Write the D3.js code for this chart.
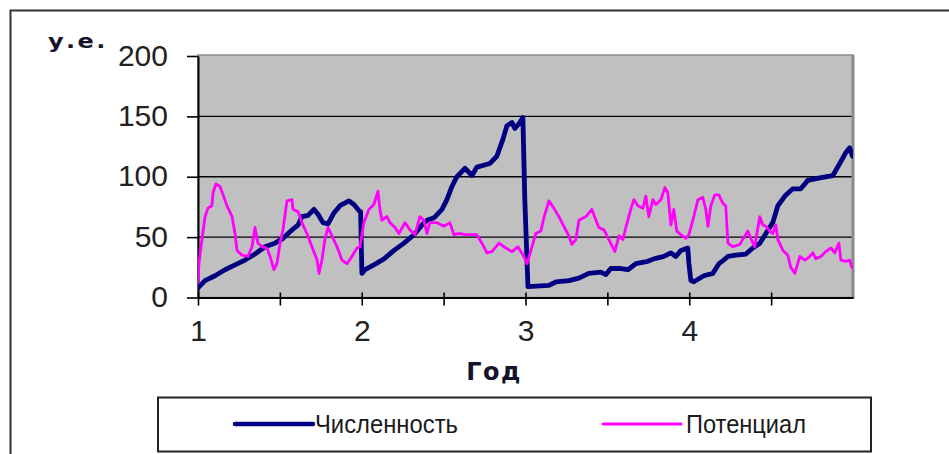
<!DOCTYPE html>
<html>
<head>
<meta charset="utf-8">
<script src="https://cdn.jsdelivr.net/npm/d3@7"></script>
<style>
  html, body { margin: 0; padding: 0; background: #fff; }
  svg { display: block; }
</style>
</head>
<body>
<svg id="chart" width="949" height="454"></svg>
<script>
// Численность: time (years) and values
const popTime = [1.000,1.043,1.104,1.165,1.226,1.287,1.348,1.409,1.470,1.519,1.574,1.611,1.635,1.672,1.708,1.733,1.763,1.794,1.830,1.867,1.922,1.952,1.989,1.993,2.001,2.020,2.074,2.136,2.197,2.258,2.319,2.368,2.398,2.441,2.490,2.520,2.551,2.581,2.630,2.673,2.703,2.783,2.825,2.862,2.886,2.917,2.935,2.966,2.984,2.996,3.015,3.143,3.186,3.265,3.326,3.387,3.460,3.491,3.521,3.582,3.625,3.674,3.747,3.784,3.845,3.888,3.918,3.949,3.991,3.998,4.010,4.028,4.089,4.144,4.181,4.211,4.236,4.285,4.346,4.388,4.431,4.468,4.510,4.541,4.584,4.632,4.681,4.724,4.797,4.877,4.919,4.956,4.980,4.997];
const popValues = [8,14,18,23,27,31,36,42,45,49,56,60,67,68,73,69,62,61,70,76,80,77,71,71,20,23,27,32,39,45,52,60,64,66,73,81,92,100,107,101,108,111,117,131,142,145,140,145,149,80,9,10,13,14,16,20,21,19,24,24,23,28,30,32,34,37,34,39,41,28,14,13,18,20,28,31,34,35,36,41,45,53,62,76,84,90,90,97,99,101,111,120,124,117];

// Потенциал: time (years) and values
const potTime = [1.000,1.006,1.024,1.043,1.061,1.085,1.092,1.110,1.134,1.153,1.177,1.208,1.226,1.238,1.269,1.305,1.330,1.348,1.366,1.391,1.421,1.440,1.464,1.482,1.501,1.519,1.543,1.574,1.580,1.611,1.635,1.665,1.696,1.727,1.739,1.757,1.775,1.794,1.818,1.849,1.879,1.910,1.940,1.971,1.989,2.013,2.044,2.074,2.099,2.111,2.123,2.154,2.172,2.203,2.227,2.264,2.294,2.325,2.355,2.380,2.398,2.416,2.459,2.502,2.538,2.563,2.593,2.636,2.703,2.734,2.764,2.795,2.838,2.880,2.917,2.954,2.990,3.009,3.033,3.063,3.094,3.112,3.143,3.173,3.204,3.234,3.265,3.283,3.308,3.326,3.369,3.405,3.430,3.448,3.479,3.509,3.546,3.570,3.595,3.613,3.643,3.662,3.686,3.717,3.735,3.753,3.778,3.796,3.827,3.851,3.869,3.888,3.906,3.924,3.949,3.979,3.998,4.022,4.053,4.083,4.101,4.114,4.132,4.156,4.181,4.205,4.223,4.236,4.266,4.309,4.339,4.358,4.376,4.400,4.413,4.431,4.449,4.468,4.492,4.510,4.529,4.541,4.572,4.602,4.620,4.645,4.675,4.706,4.736,4.755,4.773,4.804,4.834,4.865,4.889,4.914,4.926,4.956,4.980,4.993];
const potValues = [12,28,48,67,74,76,87,94,92,85,76,67,53,39,35,34,42,58,45,42,41,34,23,28,45,56,80,81,73,71,62,53,42,31,20,31,48,58,51,42,31,28,34,41,42,62,73,77,88,73,64,67,62,58,53,62,56,52,67,64,53,62,62,59,62,52,53,52,52,45,37,38,45,41,38,42,34,28,39,53,55,66,80,74,67,59,51,44,48,64,67,73,64,58,56,48,38,51,48,58,73,81,76,74,84,67,81,77,81,91,87,60,73,55,52,49,52,64,81,83,73,59,76,85,85,78,76,45,42,44,51,55,49,42,53,67,60,59,55,53,60,48,39,35,25,20,34,31,34,37,32,34,38,41,37,45,31,30,31,25];

const seriesNames = ["Численность", "Потенциал"];
const seriesColors = ["#000080", "#ff00ff"];
const yTicks = [0, 50, 100, 150, 200];
const xTickValues = [1, 1.5, 2, 2.5, 3, 3.5, 4, 4.5];
const xTickLabels = ["1", "2", "3", "4"];
const yAxisTitle = "у.е.";
const xAxisTitle = "Год";

const svg = d3.select("#chart");

// outer chart frame (runs off the right and bottom edges)
svg.append("rect")
  .attr("x", 10.5).attr("y", 10.5)
  .attr("width", 1000).attr("height", 1000)
  .attr("fill", "#fff")
  .attr("stroke", "#333").attr("stroke-width", 2);

const plot = { left: 198, top: 56, right: 853, bottom: 297.5 };
const x = d3.scaleLinear().domain([1, 5]).range([plot.left, plot.right]);
const y = d3.scaleLinear().domain([0, 200]).range([plot.bottom, plot.top]);

// plot area background
svg.append("rect")
  .attr("x", plot.left).attr("y", plot.top - 1)
  .attr("width", plot.right - plot.left).attr("height", plot.bottom - plot.top + 1)
  .attr("fill", "#c0c0c0")
  .attr("stroke", "#8c8c8c").attr("stroke-width", 1.5);
svg.append("line")
  .attr("x1", plot.right).attr("x2", plot.right)
  .attr("y1", plot.top - 1).attr("y2", plot.bottom + 1)
  .attr("stroke", "#8a8a8a").attr("stroke-width", 3);

// horizontal gridlines
svg.append("g")
  .selectAll("line")
  .data(yTicks.filter(d => d > 0 && d < 200))
  .join("line")
  .attr("x1", plot.left).attr("x2", plot.right - 1.5)
  .attr("y1", d => y(d)).attr("y2", d => y(d))
  .attr("stroke", "#000").attr("stroke-width", 1.4);

// y axis
const yAxis = svg.append("g")
  .attr("transform", `translate(${plot.left},0)`)
  .call(d3.axisLeft(y).tickValues(yTicks).tickSize(11).tickPadding(19).tickSizeOuter(0));
yAxis.select(".domain").attr("stroke", "#000").attr("stroke-width", 2);
yAxis.selectAll(".tick line").attr("stroke", "#000").attr("stroke-width", 1.6);
yAxis.selectAll(".tick text")
  .attr("font-family", "'Liberation Sans', Arial, sans-serif")
  .attr("font-size", 30)
  .attr("fill", "#222")
  .attr("dy", "0.3em");

// x axis
const xAxis = svg.append("g")
  .attr("transform", `translate(0,${plot.bottom})`)
  .call(d3.axisBottom(x).tickValues(xTickValues).tickSize(8).tickSizeOuter(0)
    .tickFormat(d => Number.isInteger(d) ? xTickLabels[d - 1] : ""));
xAxis.select(".domain").attr("stroke", "#000").attr("stroke-width", 2);
xAxis.selectAll(".tick line").attr("y1", -5).attr("stroke", "#000").attr("stroke-width", 1.6);
xAxis.selectAll(".tick text")
  .attr("font-family", "'Liberation Sans Narrow', 'Liberation Sans', Arial, sans-serif")
  .attr("font-size", 30)
  .attr("fill", "#222")
  .attr("y", 43.5).attr("dy", 0);

// series lines
svg.append("clipPath").attr("id", "plotClip")
  .append("rect")
  .attr("x", plot.left).attr("y", plot.top - 4)
  .attr("width", plot.right - plot.left).attr("height", plot.bottom - plot.top + 8);

const line = d3.line().x(d => x(d[0])).y(d => y(d[1]));
const series = [
  { data: d3.zip(popTime, popValues), color: seriesColors[0], width: 4.8 },
  { data: d3.zip(potTime, potValues), color: seriesColors[1], width: 2.8 }
];
svg.append("g").attr("clip-path", "url(#plotClip)")
  .selectAll("path")
  .data(series)
  .join("path")
  .attr("d", d => line(d.data))
  .attr("fill", "none")
  .attr("stroke", d => d.color)
  .attr("stroke-width", d => d.width)
  .attr("stroke-linejoin", "round")
  .attr("stroke-linecap", "round");

// axis titles
svg.append("text")
  .attr("transform", "translate(48,48) scale(1.2,1)")
  .attr("font-family", "'DejaVu Sans', sans-serif")
  .attr("font-weight", "bold")
  .attr("font-size", 20)
  .attr("letter-spacing", 2)
  .attr("fill", "#14142a")
  .text(yAxisTitle);

svg.append("text")
  .attr("x", 494).attr("y", 380)
  .attr("text-anchor", "middle")
  .attr("font-family", "'DejaVu Sans', sans-serif")
  .attr("font-weight", "bold")
  .attr("font-size", 24)
  .attr("letter-spacing", 1.5)
  .attr("fill", "#14142a")
  .text(xAxisTitle);

// legend
const legend = svg.append("g");
legend.append("rect")
  .attr("x", 158).attr("y", 397.5)
  .attr("width", 713).attr("height", 54)
  .attr("fill", "#fff")
  .attr("stroke", "#222").attr("stroke-width", 2);

const legendItems = [
  { name: seriesNames[0], color: seriesColors[0], width: 4.5, x0: 235, x1: 313, tx: 315, tl: 143 },
  { name: seriesNames[1], color: seriesColors[1], width: 3, x0: 603, x1: 681, tx: 686, tl: 120 }
];
const li = legend.selectAll("g.item").data(legendItems).join("g").attr("class", "item");
li.append("line")
  .attr("x1", d => d.x0).attr("x2", d => d.x1)
  .attr("y1", 424).attr("y2", 424)
  .attr("stroke", d => d.color)
  .attr("stroke-width", d => d.width)
  .attr("stroke-linecap", "round");
li.append("text")
  .attr("x", d => d.tx).attr("y", 433)
  .attr("font-family", "'Liberation Sans Narrow', 'Liberation Sans', Arial, sans-serif")
  .attr("font-size", 26)
  .attr("fill", "#1a1a1a")
  .attr("textLength", d => d.tl)
  .attr("lengthAdjust", "spacingAndGlyphs")
  .text(d => d.name);
</script>
</body>
</html>
